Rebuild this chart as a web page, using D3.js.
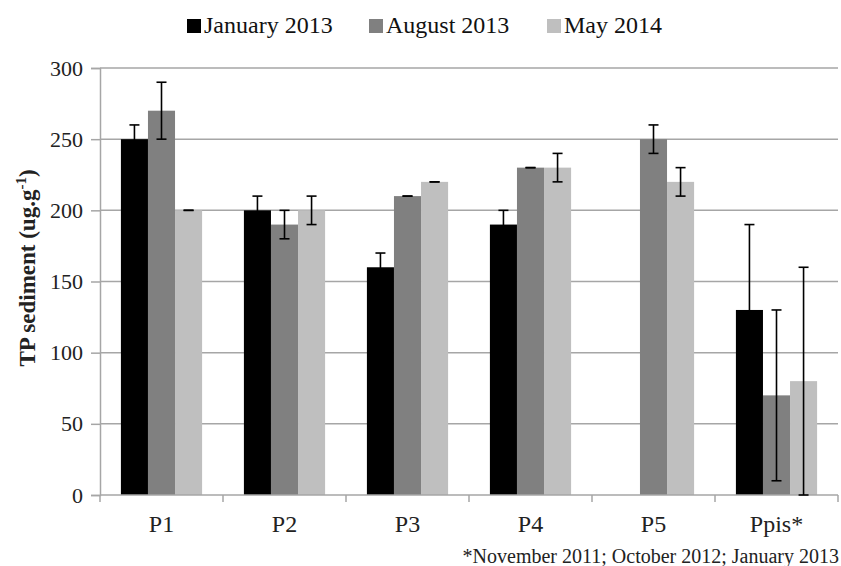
<!DOCTYPE html>
<html><head><meta charset="utf-8">
<script src="https://cdn.jsdelivr.net/npm/d3@7"></script>
<style>body{margin:0;background:#fff;} svg{display:block;} svg text{font-family:"Liberation Serif","Times New Roman","DejaVu Serif",serif;}</style>
</head><body>
<svg id="chart" width="841" height="566"></svg>
<script>
const categories = ["P1","P2","P3","P4","P5","Ppis*"];
const seriesNames = ["January 2013","August 2013","May 2014"];
const january2013 = [250,200,160,190,null,130];
const august2013  = [270,190,210,230,250,70];
const may2014     = [200,200,220,230,220,80];
const januaryErr  = [10,10,10,10,null,60];
const augustErr   = [20,10,0,0,10,60];
const mayErr      = [0,10,0,10,10,80];
const yTicks = [0,50,100,150,200,250,300];
const footnote = "*November 2011; October 2012; January 2013";

const colors = ["#000000","#808080","#bfbfbf"];
const values = [january2013, august2013, may2014];
const errs = [januaryErr, augustErr, mayErr];

const svg = d3.select("#chart");
const L = 100, R = 838, T = 68, B = 495;
const x0 = d3.scaleBand().domain(categories).range([L,R]).paddingInner(0.34).paddingOuter(0.17);
const x1 = d3.scaleBand().domain(seriesNames).range([0,x0.bandwidth()]).padding(0);
const y = d3.scaleLinear().domain([0,300]).range([B,T]);

// gridlines
svg.append("g").selectAll("line").data(yTicks.filter(d=>d>0)).join("line")
  .attr("x1",L).attr("x2",R).attr("y1",d=>y(d)).attr("y2",d=>y(d))
  .attr("stroke","#a6a6a6").attr("stroke-width",1.5);

// y axis
const yAxis = d3.axisLeft(y).tickValues(yTicks).tickSize(9).tickPadding(8).tickFormat(d3.format("d"));
const yg = svg.append("g").attr("transform",`translate(${L},0)`).call(yAxis);
yg.attr("font-family",null);
yg.select(".domain").attr("stroke","#a6a6a6").attr("stroke-width",1.5);
yg.selectAll(".tick line").attr("stroke","#a6a6a6").attr("stroke-width",1.5);
yg.selectAll("text").attr("font-size",22).attr("fill","#222");

// bars
const groups = svg.append("g").selectAll("g").data(categories).join("g")
  .attr("transform",d=>`translate(${x0(d)},0)`);
seriesNames.forEach((s,si)=>{
  groups.filter((d,i)=>values[si][i]!=null).append("rect")
    .attr("x",x1(s)).attr("width",x1.bandwidth())
    .attr("y",(d)=>y(values[si][categories.indexOf(d)]))
    .attr("height",(d)=>B-y(values[si][categories.indexOf(d)]))
    .attr("fill",colors[si]);
});

// x axis
const xg = svg.append("g").attr("transform",`translate(0,${B})`);
xg.append("line").attr("x1",L).attr("x2",R).attr("stroke","#a6a6a6").attr("stroke-width",1.5);
const bounds = categories.map(c=>x0(c)-x0.step()*x0.paddingInner()/2).concat([R]);
xg.selectAll("line.tk").data(bounds).join("line").attr("class","tk")
  .attr("x1",d=>d).attr("x2",d=>d).attr("y1",0).attr("y2",7)
  .attr("stroke","#a6a6a6").attr("stroke-width",1.5);
xg.selectAll("text").data(categories).join("text")
  .attr("x",d=>x0(d)+x0.bandwidth()/2).attr("y",37)
  .attr("text-anchor","middle").attr("font-size",24).attr("fill","#222")
  .text(d=>d);

// error bars
const eg = svg.append("g").attr("stroke","#000").attr("stroke-width",1.6);
seriesNames.forEach((s,si)=>{
  categories.forEach((c,ci)=>{
    const v = values[si][ci], e = errs[si][ci];
    if (v==null || e==null) return;
    const cx = x0(c)+x1(s)+x1.bandwidth()/2;
    const yt = y(v+e), yb = y(Math.max(0,v-e));
    eg.append("line").attr("x1",cx).attr("x2",cx).attr("y1",yt).attr("y2",yb);
    eg.append("line").attr("x1",cx-5).attr("x2",cx+5).attr("y1",yt).attr("y2",yt);
    eg.append("line").attr("x1",cx-5).attr("x2",cx+5).attr("y1",yb).attr("y2",yb);
  });
});

// y title
const yt = svg.append("text").attr("transform",`translate(35,268) rotate(-90)`)
  .attr("text-anchor","middle").attr("font-size",23)
  .attr("font-weight","bold").attr("fill","#222");
yt.append("tspan").text("TP sediment (ug.g");
yt.append("tspan").attr("dy",-9).attr("font-size",15).text("-1");
yt.append("tspan").attr("dy",9).text(")");

// legend
const legendX = [187,369,547];
const lg = svg.append("g");
seriesNames.forEach((s,i)=>{
  lg.append("rect").attr("x",legendX[i]).attr("y",19).attr("width",14).attr("height",14).attr("fill",colors[i]);
  lg.append("text").attr("x",legendX[i]+17).attr("y",33).attr("font-size",24).attr("fill","#111").text(s);
});

// footnote
svg.append("text").attr("x",839).attr("y",563).attr("text-anchor","end")
  .attr("font-size",20).attr("fill","#222").text(footnote);
</script>
</body></html>
